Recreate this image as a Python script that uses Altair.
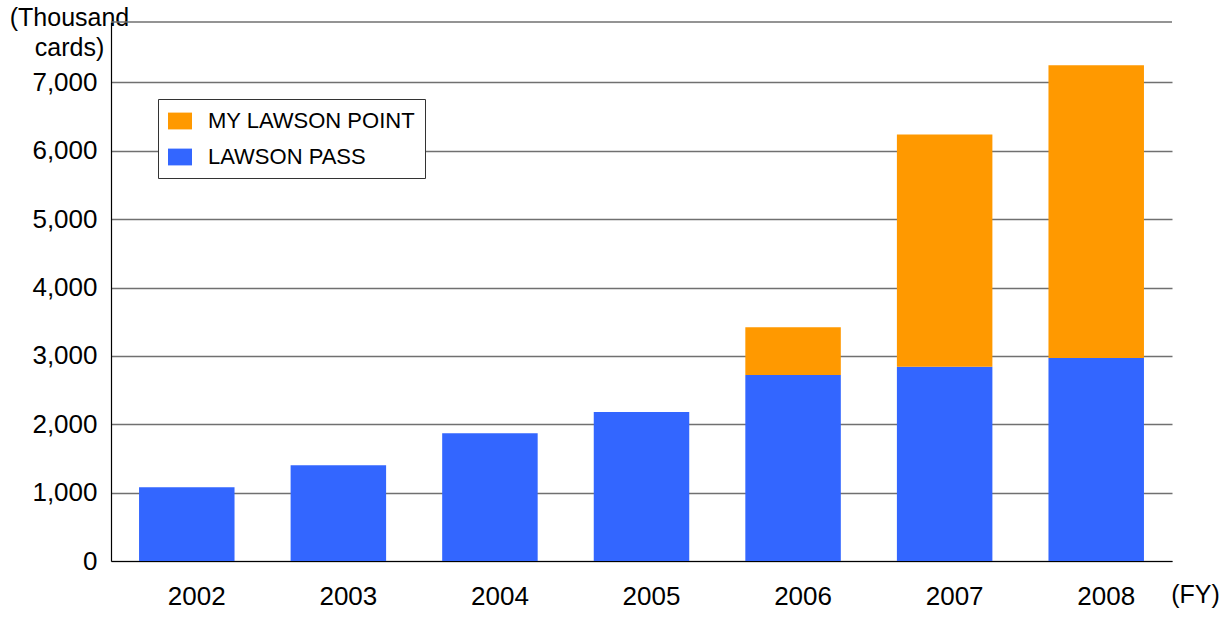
import altair as alt
import pandas as pd

years = ["2002", "2003", "2004", "2005", "2006", "2007", "2008"]
lawson_pass = [1080, 1400, 1870, 2180, 2720, 2840, 2970]
my_lawson_point = [0, 0, 0, 0, 700, 3400, 4280]
series = ["MY LAWSON POINT", "LAWSON PASS"]
colors = ["#FF9900", "#3366FF"]
y_top = 7884

rows = []
for i, y in enumerate(years):
    rows.append({"year": y, "series": "LAWSON PASS", "value": lawson_pass[i], "ord": 0})
    rows.append({"year": y, "series": "MY LAWSON POINT", "value": my_lawson_point[i], "ord": 1})
df = pd.DataFrame(rows)

FONT = "Liberation Sans"

bars = alt.Chart(df).mark_bar().encode(
    x=alt.X("year:N", sort=years,
            scale=alt.Scale(paddingInner=0.37, paddingOuter=0.185),
            axis=alt.Axis(title="(FY)", labelAngle=0, labelFontSize=26, labelFont=FONT,
                          labelColor="black", labelPadding=22, labelOffset=10,
                          ticks=False, domainColor="black", domainWidth=1.2,
                          titleFont=FONT, titleFontSize=25, titleFontWeight="normal",
                          titleColor="black", titleX=1084, titleY=33,
                          titleAlign="center", titleBaseline="middle")),
    y=alt.Y("value:Q", stack="zero",
            scale=alt.Scale(domain=[0, y_top], nice=False),
            axis=alt.Axis(values=[0, 1000, 2000, 3000, 4000, 5000, 6000, 7000],
                          format=",.0f", labelFontSize=26, labelFont=FONT, labelColor="black",
                          labelPadding=14, ticks=False, domainColor="black",
                          domainWidth=1.2, gridColor="#707070", gridWidth=1.5,
                          title=["(Thousand", "cards)"], titleFont=FONT, titleFontSize=25,
                          titleFontWeight="normal", titleColor="black", titleAngle=0,
                          titleAlign="center", titleBaseline="top", titleX=-42,
                          titleY=-17, titleLineHeight=30)),
    color=alt.Color("series:N",
                    scale=alt.Scale(domain=series, range=colors),
                    legend=alt.Legend(title=None, orient="none", legendX=47, legendY=77,
                                      fillColor="white", strokeColor="#333333",
                                      padding=10, labelFont=FONT, labelFontSize=22,
                                      labelColor="black", labelOffset=16, labelLimit=400,
                                      symbolType="M-1,-0.7H1V0.7H-1Z", symbolSize=576,
                                      symbolStrokeWidth=0, rowPadding=13)),
    order=alt.Order("ord:Q", sort="ascending"),
)

top_line = alt.Chart(pd.DataFrame({"v": [y_top]})).mark_rule(
    color="#707070", strokeWidth=1.5
).encode(y="v:Q")

chart = alt.layer(bars, top_line).properties(
    width=1061, height=539,
    background="white",
    autosize=alt.AutoSizeParams(type="none"),
    padding={"left": 111, "top": 22, "right": 57, "bottom": 56},
).configure_view(stroke=None)

chart.save("out.html", embed_options={"renderer": "svg", "actions": False})
